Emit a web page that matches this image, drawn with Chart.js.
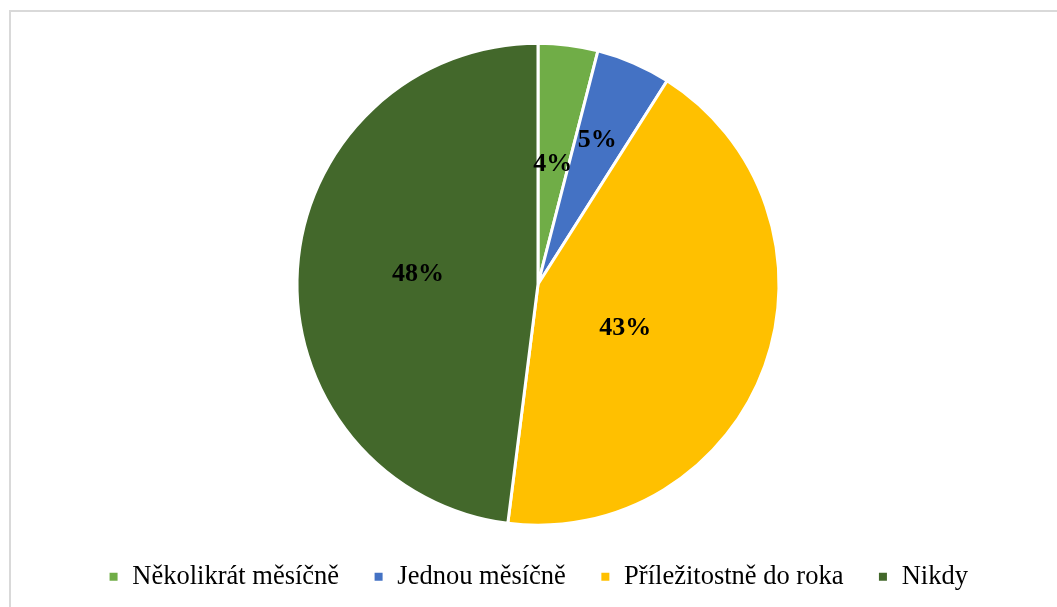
<!DOCTYPE html>
<html lang="cs">
<head>
<meta charset="utf-8">
<title>Četnost</title>
<script src="https://cdn.jsdelivr.net/npm/chart.js@4/dist/chart.umd.min.js"></script>
<style>
  html, body { margin:0; padding:0; background:#fff; overflow:hidden; }
  .wrap { position:relative; width:1057px; height:607px; }
  .frame { position:absolute; left:9px; top:10px; right:-10px; bottom:-10px;
           border-top:2px solid #d9d9d9; border-left:2px solid #d9d9d9; }
  canvas { position:absolute; left:0; top:0; }
</style>
</head>
<body>
<div class="wrap">
  <div class="frame"></div>
  <canvas id="pie" width="1057" height="607"></canvas>
</div>
<script>
// kategorie a podíly (%)
const categories = ['Několikrát měsíčně', 'Jednou měsíčně', 'Příležitostně do roka', 'Nikdy'];
const shares     = [4, 5, 43, 48];
const colors     = ['#70AD47', '#4472C4', '#FFC000', '#43682B'];

// popisky procent uvnitř výsečí
const sliceLabels = {
  id: 'sliceLabels',
  afterDatasetsDraw(chart, args, opts) {
    const { ctx } = chart;
    const meta = chart.getDatasetMeta(0);
    ctx.save();
    ctx.font = opts.font;
    ctx.fillStyle = '#000';
    ctx.textAlign = 'center';
    ctx.textBaseline = 'middle';
    meta.data.forEach((arc, i) => {
      const p = arc.getProps(['x', 'y', 'startAngle', 'endAngle', 'outerRadius'], true);
      const t = opts.along[i] ?? 0.5;
      const a = p.startAngle + (p.endAngle - p.startAngle) * t;
      const r = p.outerRadius * (opts.radius[i] ?? 0.5);
      ctx.fillText(shares[i] + '%', p.x + Math.cos(a) * r, p.y + Math.sin(a) * r);
    });
    ctx.restore();
  }
};

new Chart(document.getElementById('pie'), {
  type: 'pie',
  data: {
    labels: categories,
    datasets: [{
      data: shares,
      backgroundColor: colors,
      borderColor: '#fff',
      borderWidth: 3,
    }]
  },
  options: {
    responsive: false,
    animation: false,
    radius: 241,
    layout: { padding: { top: 39, left: 19, right: 0, bottom: 7 } },
    plugins: {
      legend: {
        position: 'bottom',
        labels: {
          color: '#000',
          font: { family: '"Liberation Serif", "Times New Roman", serif', size: 26.5 },
          boxWidth: 11,
          boxHeight: 11,
          padding: 34,
        }
      },
      tooltip: { enabled: false },
      sliceLabels: {
        font: 'bold 26px "Liberation Serif", "Times New Roman", serif',
        radius: [0.5, 0.648, 0.406, 0.5],
        along:  [0.49, 0.44, 0.545, 0.507],
      }
    }
  },
  plugins: [sliceLabels]
});
</script>
</body>
</html>
